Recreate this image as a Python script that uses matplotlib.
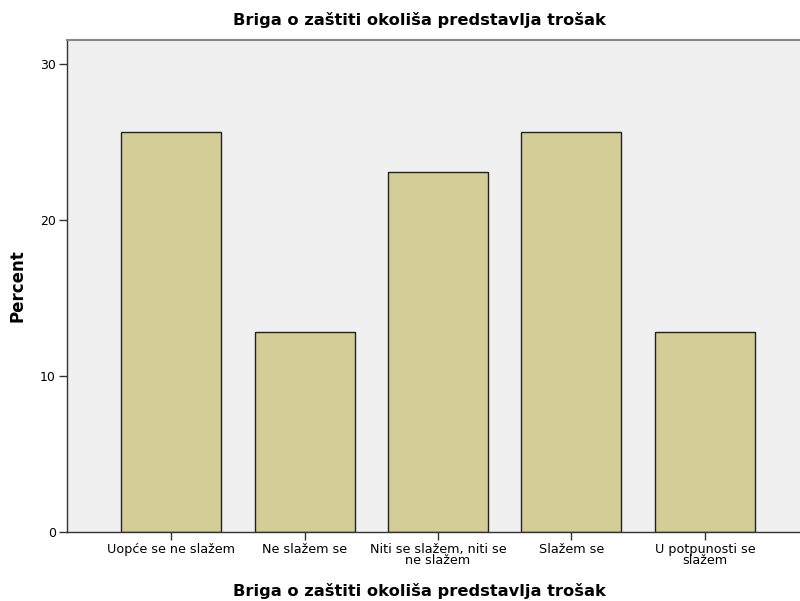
import matplotlib
matplotlib.use("Agg")
import matplotlib.pyplot as plt

categories = ["Uopće se ne slažem", "Ne slažem se", "Niti se slažem, niti se\nne slažem",
              "Slažem se", "U potpunosti se\nslažem"]
percent = [25.64, 12.82, 23.08, 25.64, 12.82]
yticks = [0, 10, 20, 30]
title = "Briga o zaštiti okoliša predstavlja trošak"

plt.rcParams['font.family'] = ['DejaVu Sans']

fig = plt.figure(figsize=(8, 6.01), dpi=100)
ax = fig.add_axes([67/800, (601-532)/601, (809-67)/800, (532-40)/601])
ax.set_facecolor('#F0F0F0')
x = list(range(len(categories)))
ax.bar(x, percent, width=0.75, color='#D3CE97', edgecolor='#222222', linewidth=1.0, zorder=2)
ax.set_xlim(-0.78, 4.78)
ax.set_ylim(0, 31.54)
ax.set_yticks(yticks)
ax.set_yticklabels([str(t) for t in yticks], fontsize=9)
ax.set_xticks(x)
ax.set_xticklabels(categories, fontsize=9.2, linespacing=0.8)
ax.tick_params(axis='both', direction='out', length=6, width=1, color='#333333', pad=2)
for s in ['left', 'bottom']:
    ax.spines[s].set_color('#333333')
    ax.spines[s].set_linewidth(1.0)
ax.spines['top'].set_color('#888888')
ax.spines['top'].set_linewidth(1.5)
ax.spines['right'].set_visible(False)

fig.text(419/800, 1 - 20/601, title, ha='center', va='center', fontsize=11.7, fontweight='bold')
fig.text(419/800, 1 - 591/601, title, ha='center', va='center', fontsize=11.7, fontweight='bold')
fig.text(18/800, 1 - 286/601, "Percent", ha='center', va='center', rotation=90, fontsize=12, fontweight='bold')

fig.savefig("out.png", dpi=100)
